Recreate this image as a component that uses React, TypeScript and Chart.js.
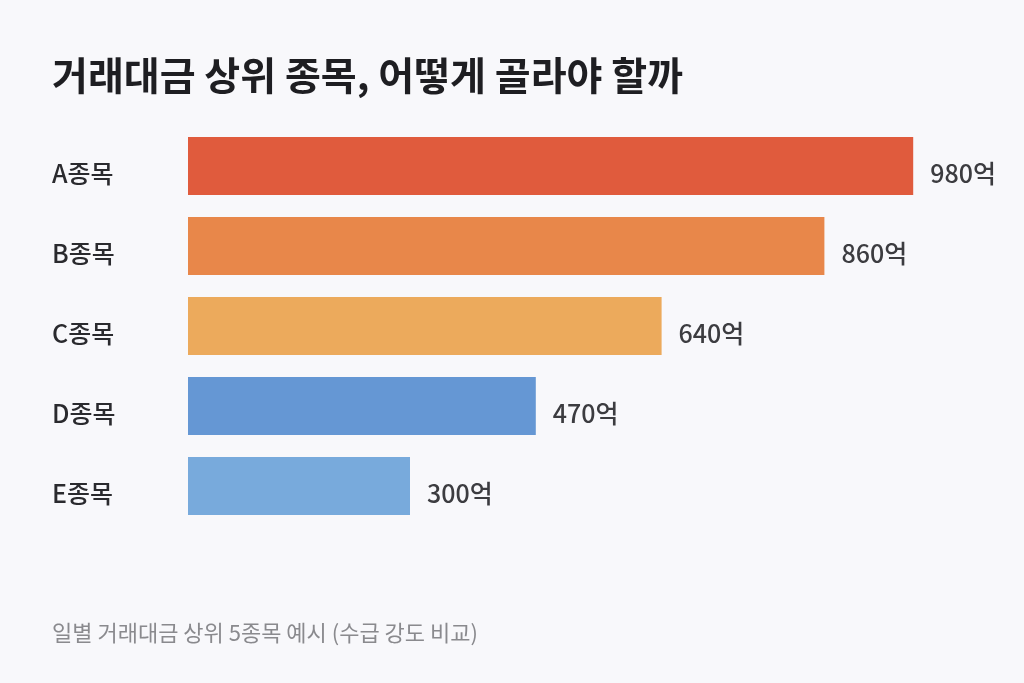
import React, { useEffect, useRef } from "react";
import { Chart, registerables } from "chart.js";

Chart.register(...registerables);

const TITLE = "거래대금 상위 종목, 어떻게 골라야 할까";
const NOTE = "일별 거래대금 상위 5종목 예시 (수급 강도 비교)";
const categories = ["A종목", "B종목", "C종목", "D종목", "E종목"];
const values = [980, 860, 640, 470, 300];
const barColors = ["#E05B3D", "#E8874A", "#ECAA5C", "#6597D4", "#78AADC"];
const UNIT = "억";
const FONT = "'Noto Sans CJK KR', 'Noto Sans', sans-serif";
const BG = "#F8F8FB";

const textPlugin = {
  id: "textPlugin",
  beforeDraw(chart: any) {
    const { ctx } = chart;
    ctx.save();
    ctx.fillStyle = BG;
    ctx.fillRect(0, 0, chart.width, chart.height);
    ctx.restore();
  },
  afterDraw(chart: any) {
    const { ctx } = chart;
    ctx.save();
    ctx.textBaseline = "alphabetic";
    ctx.textAlign = "left";
    ctx.fillStyle = "#1E1E22";
    ctx.font = `bold 39px ${FONT}`;
    ctx.fillText(TITLE, 52, 90);
    ctx.fillStyle = "#8A8A8E";
    ctx.font = `400 22px ${FONT}`;
    ctx.fillText(NOTE, 52, 641);

    const meta = chart.getDatasetMeta(0);
    ctx.fillStyle = "#3C3C40";
    ctx.font = `500 25px ${FONT}`;
    ctx.textBaseline = "middle";
    meta.data.forEach((bar: any, i: number) => {
      ctx.fillText(values[i] + UNIT, bar.x + 17, bar.y + 7);
    });
    ctx.restore();
  },
};

export default function App() {
  const ref = useRef<HTMLCanvasElement | null>(null);
  useEffect(() => {
    document.body.style.margin = "0";
    document.body.style.background = BG;
    const chart = new Chart(ref.current as HTMLCanvasElement, {
      type: "bar",
      data: {
        labels: categories,
        datasets: [
          {
            data: values,
            backgroundColor: barColors,
            borderWidth: 0,
            barPercentage: 0.725,
            categoryPercentage: 1,
          },
        ],
      },
      options: {
        indexAxis: "y",
        animation: false,
        responsive: false,
        maintainAspectRatio: false,
        layout: { padding: { top: 126, bottom: 157, left: 52, right: 96 } },
        plugins: {
          legend: { display: false },
          tooltip: { enabled: false },
          title: { display: false },
        },
        scales: {
          x: {
            display: false,
            min: 0,
            max: 1000,
          },
          y: {
            grid: { display: false },
            border: { display: false },
            afterFit(scale: any) {
              scale.width = 136;
            },
            ticks: {
              crossAlign: "far",
              labelOffset: 7,
              color: "#2A2A2E",
              font: { family: FONT, size: 25, weight: "500" },
            },
          },
        },
      },
      plugins: [textPlugin],
    } as any);
    return () => chart.destroy();
  }, []);
  return (
    <div style={{ position: "absolute", left: 0, top: 0, width: 1024, height: 683 }}>
      <canvas ref={ref} width={1024} height={683} style={{ width: 1024, height: 683 }} />
    </div>
  );
}
